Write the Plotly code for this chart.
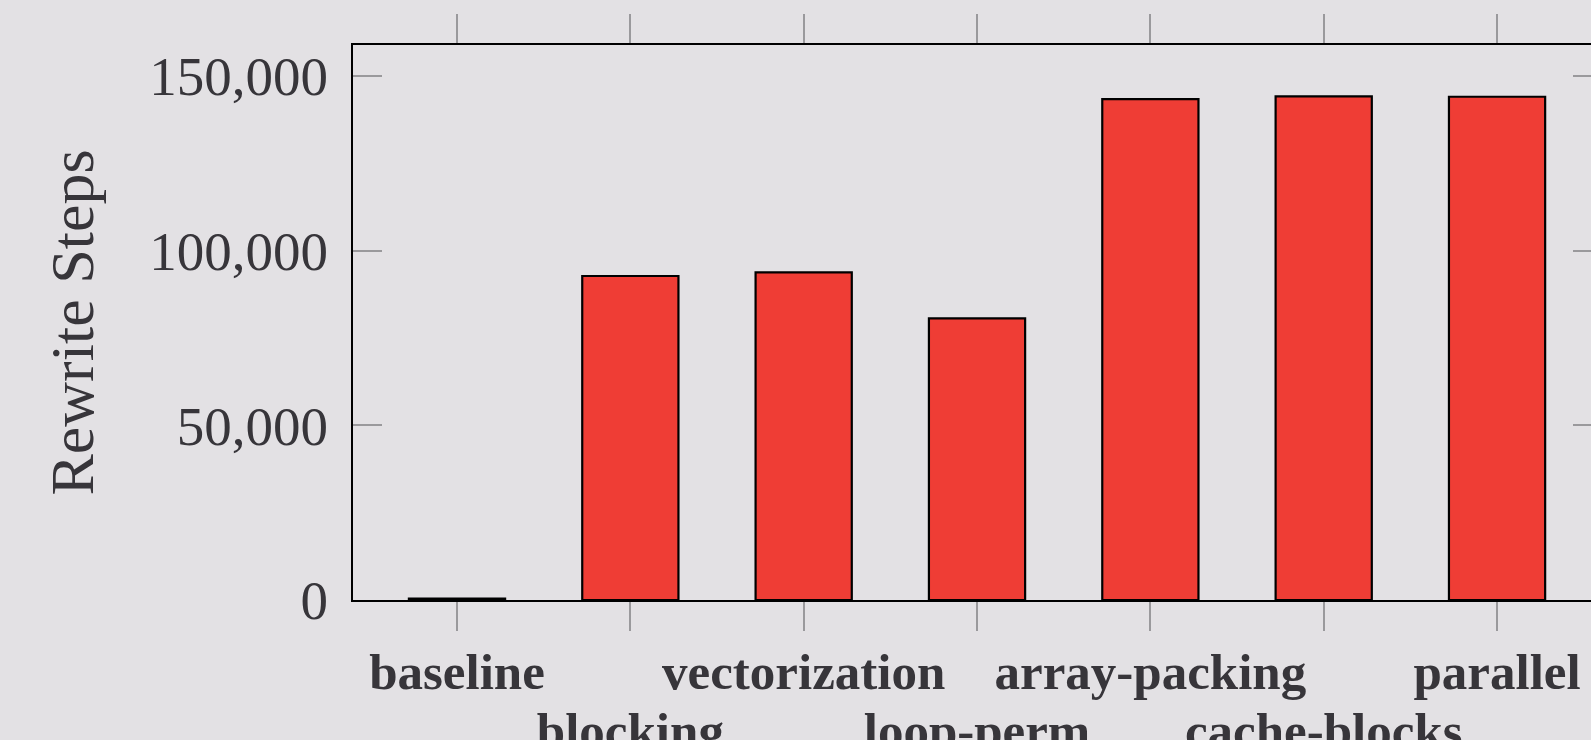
import plotly.graph_objects as go

categories = ["baseline", "blocking", "vectorization", "loop-perm",
              "array-packing", "cache-blocks", "parallel"]
rewrite_steps = [400, 92700, 93750, 80600, 143300, 144100, 144000]
y_tick_vals = [0, 50000, 100000, 150000]
y_tick_text = ["0", "50,000", "100,000", "150,000"]

BG = "#e3e1e4"
TXT = "#37353a"
RED = "#ef3d35"
TICK = "#9a999c"
FONT = "Liberation Serif"

xs = list(range(len(categories)))
even_text = [c if i % 2 == 0 else "" for i, c in enumerate(categories)]
odd_vals = [i for i in xs if i % 2 == 1]
odd_text = [categories[i] for i in odd_vals]

fig = go.Figure()
fig.add_trace(go.Bar(
    x=xs, y=rewrite_steps, width=0.555,
    marker=dict(color=RED, line=dict(color="black", width=2.2)),
    showlegend=False, hoverinfo="skip",
))
# invisible trace to bind the secondary axes
fig.add_trace(go.Scatter(x=[None], y=[None], xaxis="x2", yaxis="y2",
                         showlegend=False, hoverinfo="skip"))

x_range = [-0.6, 6.542]
y_range = [0, 158800]

fig.update_layout(
    width=1591, height=740,
    paper_bgcolor=BG, plot_bgcolor=BG,
    margin=dict(l=353, r=0, t=45, b=140, autoexpand=False),
    font=dict(family=FONT, color=TXT),
    xaxis=dict(
        range=x_range, tickvals=xs, ticktext=even_text,
        ticks="outside", ticklen=29, tickwidth=1.5, tickcolor=TICK,
        showline=True, linecolor="black", linewidth=2, mirror="ticks",
        showgrid=False, zeroline=False,
        tickfont=dict(family=FONT, size=51, color=TXT, weight="bold"),
        ticklabelstandoff=-3,
    ),
    xaxis2=dict(
        range=x_range, overlaying="x", anchor="y", side="bottom",
        tickvals=odd_vals, ticktext=odd_text, ticks="",
        showline=False, showgrid=False, zeroline=False,
        tickfont=dict(family=FONT, size=51, color=TXT, weight="bold"),
        ticklabelstandoff=96,
    ),
    yaxis=dict(
        range=y_range, tickvals=y_tick_vals, ticktext=y_tick_text,
        ticks="inside", ticklen=29, tickwidth=1.5, tickcolor=TICK,
        showline=True, linecolor="black", linewidth=2, mirror=False,
        showgrid=False, zeroline=False,
        tickfont=dict(family=FONT, size=55, color=TXT),
        ticklabelstandoff=12,
        title=dict(text="Rewrite Steps", font=dict(family=FONT, size=62, color=TXT),
                   standoff=36),
    ),
    yaxis2=dict(
        range=y_range, overlaying="y", side="right", anchor="x",
        tickvals=y_tick_vals, ticks="inside", ticklen=18, tickwidth=1.5,
        tickcolor=TICK, showticklabels=False, showline=False,
        showgrid=False, zeroline=False,
    ),
)

fig.write_html(
    "out.html",
    config={"displayModeBar": False},
    post_script="document.body.style.margin='0';document.body.style.overflow='hidden';",
)
